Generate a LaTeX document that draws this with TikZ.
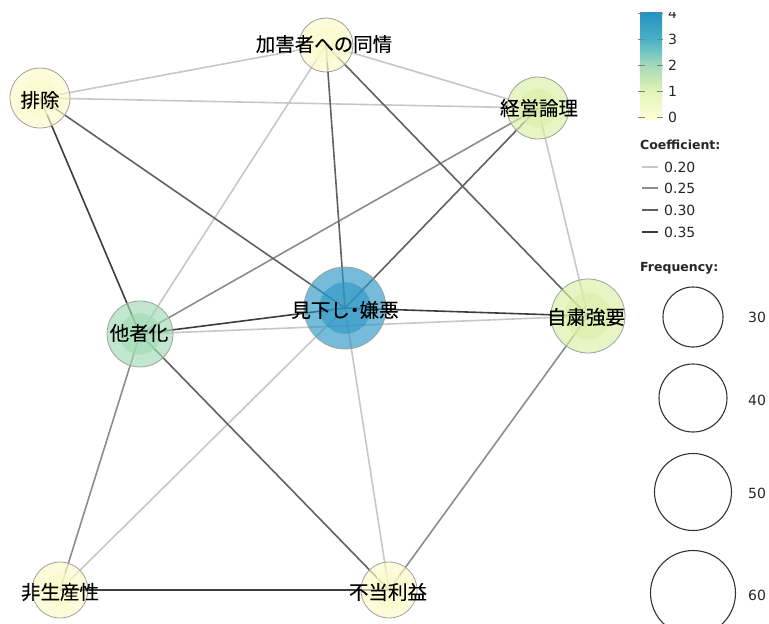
\documentclass[tikz,border=0pt]{standalone}
\usepackage{fontspec}
\setmainfont{DejaVu Sans}
\newfontfamily\cjk[FakeBold=0.12]{Noto Sans CJK JP}
\definecolor{cblue}{RGB}{44,150,196}
\definecolor{cgreen}{RGB}{160,218,180}
\definecolor{clime}{RGB}{218,238,165}
\definecolor{cyel}{RGB}{250,250,200}
\definecolor{bordercol}{RGB}{160,160,160}
\definecolor{cbA}{HTML}{FDFED8}
\definecolor{cbB}{HTML}{E3F3B4}
\definecolor{cbC}{HTML}{A3D9BA}
\definecolor{cbD}{HTML}{48B1C6}
\definecolor{cbE}{HTML}{2490C1}
\tikzset{
  cA/.style={draw=black!22, line width=1.6pt},
  cB/.style={draw=black!45, line width=1.6pt},
  cC/.style={draw=black!62, line width=1.6pt},
  cD/.style={draw=black!76, line width=1.6pt},
  lab/.style={font=\cjk\fontsize{19.5}{20}\selectfont, text=black, inner sep=0pt},
  legtitle/.style={font=\bfseries\fontsize{12.5}{13}\selectfont, text=black!85, anchor=west, inner sep=0pt},
  legnum/.style={font=\fontsize{14}{15}\selectfont, text=black!85, anchor=west, inner sep=0pt},
  tickmark/.style={draw=black!50, line width=1pt},
  freqcirc/.style={draw=black!80, line width=1.1pt},
}
\newcommand\bubble[3]{%
  \fill[#3, fill opacity=.65] (#1) circle (#2pt);
  \fill[#3, fill opacity=.6] (#1) circle ({0.63*#2pt});
  \draw[bordercol, line width=.8pt] (#1) circle (#2pt);}
\begin{document}
\begin{tikzpicture}[x=1pt,y=-1pt]
\useasboundingbox (0,0) rectangle (769,624);
% node centres
\coordinate (kagai) at (326,45);
\coordinate (haijo) at (40,98);
\coordinate (keiei) at (538,108);
\coordinate (mikudashi) at (345,308);
\coordinate (tasha) at (140,334);
\coordinate (jishuku) at (588,316);
\coordinate (hisei) at (60,590);
\coordinate (futou) at (389,590);
% edges
\draw[cA] (kagai) -- (haijo);
\draw[cA] (kagai) -- (keiei);
\draw[cA] (kagai) -- (tasha);
\draw[cA] (haijo) -- (keiei);
\draw[cA] (keiei) -- (jishuku);
\draw[cA] (tasha) -- (jishuku);
\draw[cA] (mikudashi) -- (hisei);
\draw[cA] (mikudashi) -- (futou);
\draw[cB] (keiei) -- (tasha);
\draw[cB] (tasha) -- (hisei);
\draw[cB] (jishuku) -- (futou);
\draw[cC] (kagai) -- (mikudashi);
\draw[cC] (kagai) -- (jishuku);
\draw[cC] (haijo) -- (mikudashi);
\draw[cC] (keiei) -- (mikudashi);
\draw[cC] (tasha) -- (futou);
\draw[cD] (haijo) -- (tasha);
\draw[cD] (tasha) -- (mikudashi);
\draw[cD] (mikudashi) -- (jishuku);
\draw[cD] (hisei) -- (futou);
% bubbles
\bubble{kagai}{27}{cyel}
\bubble{haijo}{30}{cyel}
\bubble{keiei}{31}{clime}
\bubble{mikudashi}{41}{cblue}
\bubble{tasha}{33}{cgreen}
\bubble{jishuku}{37}{clime}
\bubble{hisei}{28}{cyel}
\bubble{futou}{28}{cyel}
% labels
\node[lab] (tkagai) at (324,44) {加害者への同情};
\node[lab] (thaijo) at (40,100) {排除};
\node[lab] (tkeiei) at (539,108) {経営論理};
\node[lab] (tmikudashi) at (345,310) {見下し\kern-.25em・\kern-.25em嫌悪};
\node[lab] (ttasha) at (139,333) {他者化};
\node[lab] (tjishuku) at (586,317) {自粛強要};
\node[lab] (thisei) at (60,592) {非生産性};
\node[lab] (tfutou) at (388,592) {不当利益};
% colour bar
\begin{scope}
\clip (600,12) rectangle (769,130);
\shade[bottom color=cbA, top color=cbA] (640,119) rectangle (662,117);
\shade[bottom color=cbA, top color=cbB] (640,117) rectangle (662,91);
\shade[bottom color=cbB, top color=cbC] (640,91) rectangle (662,65);
\shade[bottom color=cbC, top color=cbD] (640,65) rectangle (662,39);
\shade[bottom color=cbD, top color=cbE] (640,39) rectangle (662,12);
\foreach \v/\yy in {0/117,1/91,2/65,3/39,4/13}{
  \draw[tickmark] (638,\yy) -- (645,\yy);
  \draw[tickmark] (657,\yy) -- (663,\yy);
  \node[legnum] (cb\v) at (668,\yy) {\v};
}
\end{scope}
% coefficient legend
\node[legtitle] (coef) at (640,145) {Coefficient:};
\node[legnum] (k20) at (664,167) {0.20};
\node[legnum] (k25) at (664,188) {0.25};
\node[legnum] (k30) at (664,210) {0.30};
\node[legnum] (k35) at (664,232) {0.35};
\coordinate (s20) at (642,167);
\coordinate (s25) at (642,188);
\coordinate (s30) at (642,210);
\coordinate (s35) at (642,232);
\draw[cA] (s20) -- ([xshift=-6pt]k20.west);
\draw[cB] (s25) -- ([xshift=-6pt]k25.west);
\draw[cC] (s30) -- ([xshift=-6pt]k30.west);
\draw[cD] (s35) -- ([xshift=-6pt]k35.west);
% frequency legend
\node[legtitle] (freq) at (640,268) {Frequency:};
\draw[freqcirc] (693,317) circle (30pt);
\draw[freqcirc] (693,398) circle (34pt);
\draw[freqcirc] (693,492) circle (38.5pt);
\draw[freqcirc] (693,593) circle (42.5pt);
\node[legnum] (f30) at (748,317) {30};
\node[legnum] (f40) at (748,400) {40};
\node[legnum] (f50) at (748,493) {50};
\node[legnum] (f60) at (748,595) {60};
\end{tikzpicture}
\end{document}
